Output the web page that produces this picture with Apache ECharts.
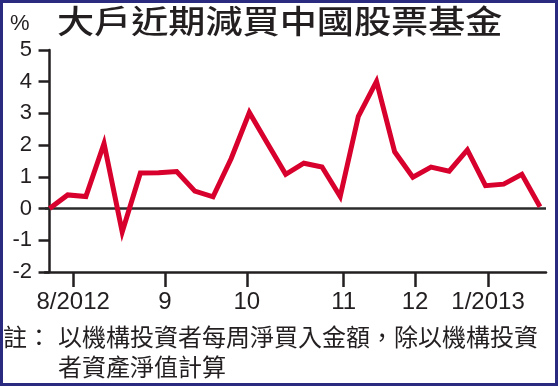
<!DOCTYPE html>
<html>
<head>
<meta charset="utf-8">
<script src="https://cdn.jsdelivr.net/npm/echarts@6/dist/echarts.min.js"></script>
<style>
html,body{margin:0;padding:0;background:#fff;}
#chart{width:558px;height:386px;}
</style>
</head>
<body>
<div id="chart"></div>
<script>
// Weekly observations (index of week), Aug 2012 – Jan 2013
const weekIndex = [0,1,2,3,4,5,6,7,8,9,10,11,12,13,14,15,16,17,18,19,20,21,22,23,24,25,26,27];
// Net weekly purchases as % of assets
const netBuyPct = [0.00,0.43,0.38,2.05,-0.74,1.12,1.13,1.17,0.55,0.37,1.58,3.03,2.05,1.08,1.43,1.31,0.38,2.91,4.01,1.79,0.99,1.31,1.18,1.85,0.72,0.77,1.08,0.06];
// Month tick positions (in week-index units) and their labels
const monthTickPos = [1.30, 6.35, 10.86, 16.19, 20.12, 24.14];
const monthTickLabels = ['8/2012','9','10','11','12','1/2013'];
const yTicks = [-2,-1,0,1,2,3,4,5];

const titleText = '大戶近期減買中國股票基金';
const unitText = '%';
const noteLabel = '註：';
const noteLine1 = '以機構投資者每周淨買入金額，除以機構投資';
const noteLine2 = '者資產淨值計算';

const ink = '#231f20';
const red = '#d8002c';
const latin = 'Arial, "Liberation Sans", Helvetica, sans-serif';
const cjk = '"Noto Sans CJK TC", "Noto Sans CJK SC", sans-serif';

const chart = echarts.init(document.getElementById('chart'), null, {renderer:'canvas'});
chart.setOption({
  animation:false,
  backgroundColor:'#ffffff',
  grid:{left:45, right:12, top:50, bottom:114, containLabel:false},
  xAxis:{
    type:'value', min:-0.25, max:27.33,
    axisLine:{show:true, onZero:false, lineStyle:{color:ink, width:2.5}},
    splitLine:{show:false},
    axisTick:{show:true, customValues:monthTickPos, length:15, lineStyle:{color:ink, width:2.5}},
    axisLabel:{
      show:true, customValues:monthTickPos, margin:18,
      fontSize:24, fontFamily:latin, color:ink,
      formatter:function(v){
        let best=0, d=1e9;
        monthTickPos.forEach((p,i)=>{ if(Math.abs(p-v)<d){d=Math.abs(p-v);best=i;} });
        return monthTickLabels[best];
      }
    }
  },
  yAxis:{
    type:'value', min:yTicks[0], max:yTicks[yTicks.length-1], interval:1,
    axisLine:{show:true, lineStyle:{color:ink, width:2.5}},
    splitLine:{show:false},
    axisTick:{show:true, length:11, lineStyle:{color:ink, width:2.5}},
    axisLabel:{margin:13, fontSize:22, fontFamily:latin, color:ink}
  },
  series:[
    {
      type:'line', data:[], z:1, silent:true,
      markLine:{
        silent:true, symbol:['none','none'], label:{show:false},
        lineStyle:{color:'#2b2b2b', width:2.5, type:'solid'},
        data:[{yAxis:0}]
      }
    },
    {
      type:'line', z:5,
      data: weekIndex.map((w,i)=>[w, netBuyPct[i]]),
      showSymbol:false, symbol:'none',
      lineStyle:{color:red, width:5, join:'miter'},
      itemStyle:{color:red}
    }
  ],
  graphic:[
    {type:'rect', shape:{x:1.5, y:1.5, width:555, height:383}, style:{fill:null, stroke:'#2a2a80', lineWidth:3}, z:100},
    {type:'text', x:57, y:5, scaleX:1.16, style:{text:titleText, font:'500 32px '+cjk, fill:ink, textVerticalAlign:'top'}},
    {type:'text', x:10, y:13, style:{text:unitText, font:'22px '+latin, fill:ink, textVerticalAlign:'top'}},
    {type:'text', x:3, y:325, style:{text:noteLabel, font:'24px '+cjk, fill:ink, textVerticalAlign:'top'}},
    {type:'text', x:58, y:325, style:{text:noteLine1, font:'24px '+cjk, fill:ink, textVerticalAlign:'top'}},
    {type:'text', x:58, y:355, style:{text:noteLine2, font:'24px '+cjk, fill:ink, textVerticalAlign:'top'}}
  ]
});
</script>
</body>
</html>
